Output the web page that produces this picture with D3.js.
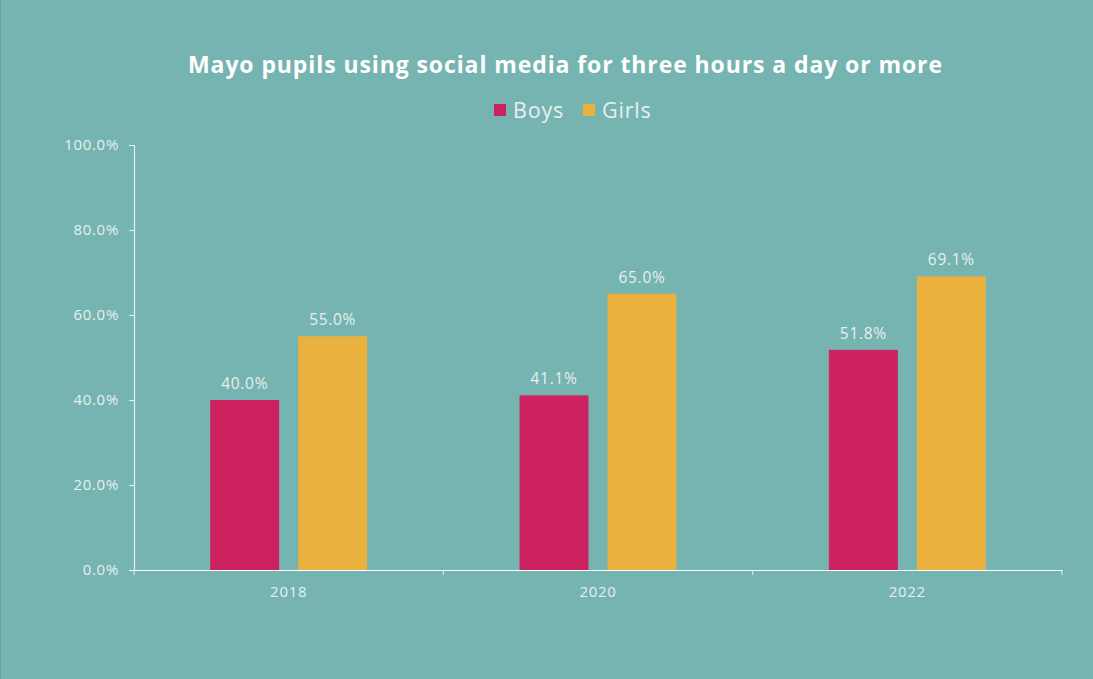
<!DOCTYPE html>
<html>
<head>
<meta charset="utf-8">
<script src="https://cdn.jsdelivr.net/npm/d3@7"></script>
<style>
  html, body { margin: 0; padding: 0; background: #76b4b1; }
  svg { display: block; font-family: "Open Sans", "Noto Sans", sans-serif; }
</style>
</head>
<body>
<svg id="chart" width="1093" height="679"></svg>
<script>
const years = ['2018', '2020', '2022'];
const seriesNames = ['Boys', 'Girls'];
const boys = [40.0, 41.1, 51.8];
const girls = [55.0, 65.0, 69.1];
const yTicks = [0, 20, 40, 60, 80, 100];

const colors = ['#cc2360', '#ebb13e'];
const axisColor = 'rgba(255,255,255,0.8)';
const textColor = '#e6f0ef';

const width = 1093, height = 679;
const margin = { top: 145, right: 31, bottom: 109, left: 134 };

const svg = d3.select('#chart');

svg.append('rect')
    .attr('width', width)
    .attr('height', height)
    .attr('fill', '#76b4b1');
svg.append('line')
    .attr('x1', 0.5).attr('x2', 0.5)
    .attr('y1', 0).attr('y2', height)
    .attr('stroke', '#6aa6a3');

const x = d3.scaleBand()
    .domain(years)
    .range([margin.left, width - margin.right]);

const xInner = d3.scaleBand()
    .domain(seriesNames)
    .range([0, x.bandwidth()])
    .paddingInner(0.216)
    .paddingOuter(0.866);

const y = d3.scaleLinear()
    .domain([0, 100])
    .range([height - margin.bottom, margin.top]);

const data = years.map((yr, i) => ({
    year: yr,
    values: [
        { name: 'Boys', value: boys[i] },
        { name: 'Girls', value: girls[i] }
    ]
}));

// title
svg.append('text')
    .attr('x', 565)
    .attr('y', 73)
    .attr('text-anchor', 'middle')
    .attr('fill', '#ffffff')
    .attr('font-weight', 700)
    .attr('font-size', 23)
    .attr('textLength', 754)
    .attr('lengthAdjust', 'spacing')
    .text('Mayo pupils using social media for three hours a day or more');

// legend
const legend = svg.append('g').attr('transform', 'translate(494,104)');
const legendX = [0, 89];
seriesNames.forEach((name, i) => {
    const g = legend.append('g').attr('transform', `translate(${legendX[i]},0)`);
    g.append('rect')
        .attr('width', 12)
        .attr('height', 12)
        .attr('fill', colors[i]);
    g.append('text')
        .attr('x', 19)
        .attr('y', 14)
        .attr('fill', textColor)
        .attr('font-size', 21.5)
        .attr('letter-spacing', 0.8)
        .text(name);
});

// y axis
const yAxis = svg.append('g')
    .attr('transform', `translate(${margin.left},0)`)
    .call(d3.axisLeft(y)
        .tickValues(yTicks)
        .tickSize(5)
        .tickPadding(10)
        .tickFormat(d => d.toFixed(1) + '%'));
yAxis.select('.domain').attr('stroke', axisColor).attr('stroke-width', 1.2);
yAxis.selectAll('.tick line').attr('stroke', axisColor);
yAxis.selectAll('.tick text')
    .attr('fill', textColor)
    .attr('font-size', 15)
    .attr('letter-spacing', 0.7)
    .attr('font-family', '"Open Sans", sans-serif');

// x axis
const xAxis = svg.append('g')
    .attr('transform', `translate(0,${height - margin.bottom})`)
    .call(d3.axisBottom(x).tickSize(0).tickPadding(16));
xAxis.select('.domain').attr('stroke', '#ffffff').attr('stroke-width', 1.2);
xAxis.selectAll('.tick text')
    .attr('fill', textColor)
    .attr('font-size', 15)
    .attr('letter-spacing', 0.7)
    .attr('font-family', '"Open Sans", sans-serif');

// category boundary ticks
const bounds = years.map(yr => x(yr)).concat([x(years[years.length - 1]) + x.bandwidth()]);
xAxis.selectAll('.bound')
    .data(bounds)
    .join('line')
    .attr('class', 'bound')
    .attr('x1', d => d).attr('x2', d => d)
    .attr('y1', 0).attr('y2', 5)
    .attr('stroke', axisColor);

// bars
const groups = svg.append('g')
    .selectAll('g')
    .data(data)
    .join('g')
    .attr('transform', d => `translate(${x(d.year)},0)`);

groups.selectAll('rect')
    .data(d => d.values)
    .join('rect')
    .attr('x', d => xInner(d.name))
    .attr('width', xInner.bandwidth())
    .attr('y', d => y(d.value))
    .attr('height', d => y(0) - y(d.value))
    .attr('fill', (d, i) => colors[i]);

groups.selectAll('text.label')
    .data(d => d.values)
    .join('text')
    .attr('class', 'label')
    .attr('x', d => xInner(d.name) + xInner.bandwidth() / 2)
    .attr('y', d => y(d.value) - 11)
    .attr('text-anchor', 'middle')
    .attr('fill', textColor)
    .attr('font-size', 15.5)
    .attr('letter-spacing', 0.7)
    .text(d => d.value.toFixed(1) + '%');
</script>
</body>
</html>
